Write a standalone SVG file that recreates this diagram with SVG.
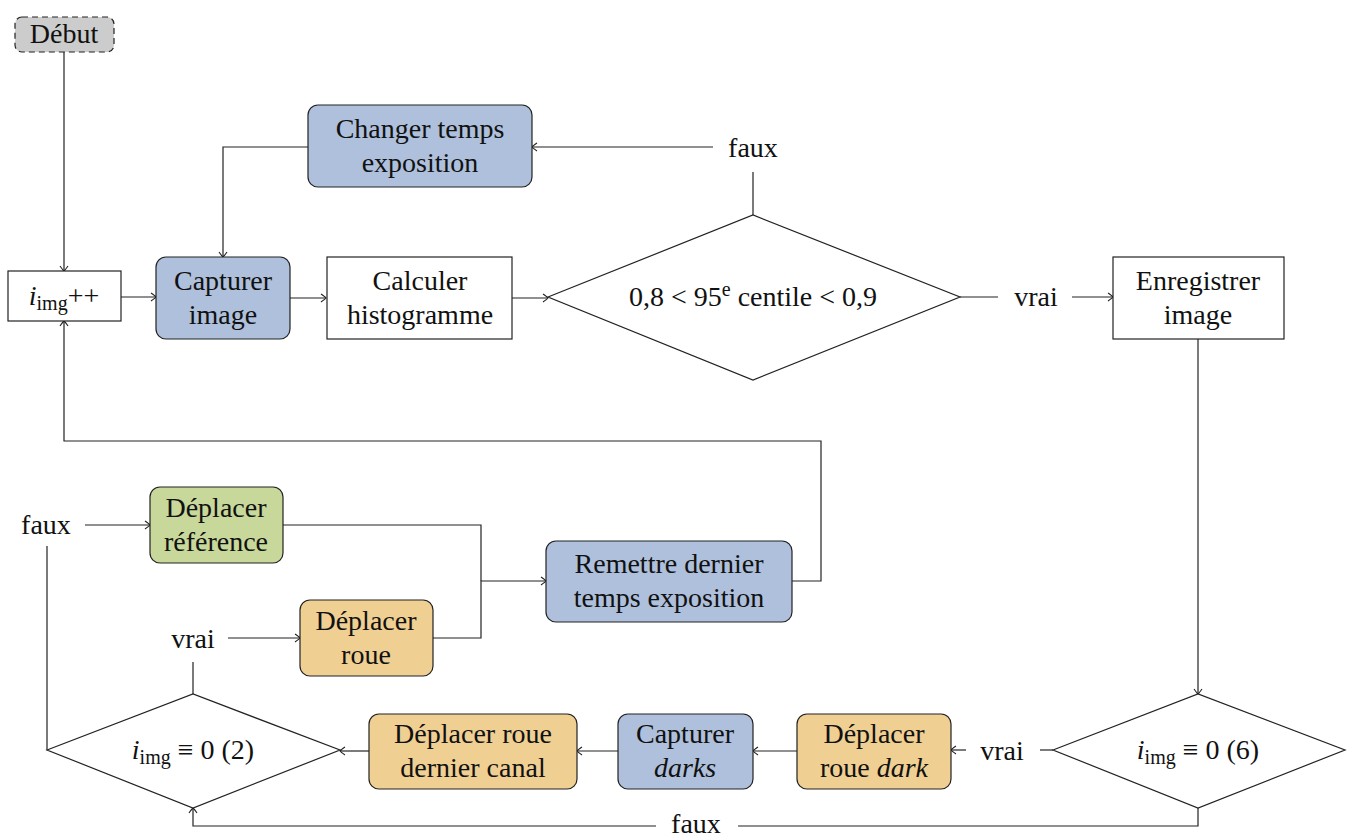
<svg xmlns="http://www.w3.org/2000/svg" width="1352" height="837" viewBox="0 0 1352 837" font-family="Liberation Serif, DejaVu Serif, serif">
<style>
text{font-size:28px;fill:#111;text-anchor:middle}
.it{font-style:italic}
.sub{font-size:20px}
.box{stroke:#222;stroke-width:1.2}
.blue{fill:#aec0db}
.orange{fill:#f0cf93}
.green{fill:#c7d89a}
.white{fill:#fff}
.con{fill:none;stroke:#222;stroke-width:1.2}
</style>
<defs>
<marker id="arr" viewBox="-6 -5 7 10" refX="0" refY="0" markerWidth="7" markerHeight="10" markerUnits="userSpaceOnUse" orient="auto" overflow="visible">
<path d="M-5,-4 Q-1,-1.2 0,0 Q-1,1.2 -5,4" fill="none" stroke="#222" stroke-width="1.1"/>
</marker>
</defs>
<rect width="1352" height="837" fill="#fff"/>
<g id="connectors">
<path class="con" d="M64,52 V271" marker-end="url(#arr)"/>
<path class="con" d="M121,297 H156" marker-end="url(#arr)"/>
<path class="con" d="M290,298 H326" marker-end="url(#arr)"/>
<path class="con" d="M512,298 H548" marker-end="url(#arr)"/>
<path class="con" d="M753,215 V172"/>
<path class="con" d="M713,147 H532" marker-end="url(#arr)"/>
<path class="con" d="M308,147 H223 V257" marker-end="url(#arr)"/>
<path class="con" d="M960,297 H998"/>
<path class="con" d="M1072,297 H1113" marker-end="url(#arr)"/>
<path class="con" d="M1198,339 V694" marker-end="url(#arr)"/>
<path class="con" d="M1053,750 H1040"/>
<path class="con" d="M966,750 H951" marker-end="url(#arr)"/>
<path class="con" d="M797,751 H753" marker-end="url(#arr)"/>
<path class="con" d="M618,751 H577" marker-end="url(#arr)"/>
<path class="con" d="M369,751 H340" marker-end="url(#arr)"/>
<path class="con" d="M1198,808 V826 H738"/>
<path class="con" d="M656,826 H193 V808" marker-end="url(#arr)"/>
<path class="con" d="M193,694 V662"/>
<path class="con" d="M228,638 H300" marker-end="url(#arr)"/>
<path class="con" d="M47,750 V546"/>
<path class="con" d="M85,525 H150" marker-end="url(#arr)"/>
<path class="con" d="M283,525 H481 V581"/>
<path class="con" d="M433,638 H481 V581 H546" marker-end="url(#arr)"/>
<path class="con" d="M792,581 H821 V441 H64 V321" marker-end="url(#arr)"/>
</g>
<g id="labels">
<text x="753" y="157">faux</text>
<text x="1036" y="306">vrai</text>
<text x="1002" y="760">vrai</text>
<text x="696" y="833">faux</text>
<text x="193" y="648">vrai</text>
<text x="46" y="534">faux</text>
</g>
<g id="debut">
<rect class="box" x="15" y="17" width="99" height="35" rx="7" fill="#cccccc" stroke-dasharray="6,4"/>
<text x="64" y="43">Début</text>
</g>
<g id="iimg">
<rect class="box white" x="8" y="271" width="113" height="50"/>
<text x="64" y="305"><tspan class="it">i</tspan><tspan class="sub" dy="5">img</tspan><tspan dy="-5">++</tspan></text>
</g>
<g id="capturer-image">
<rect class="box blue" x="156" y="257" width="134" height="82" rx="10"/>
<text x="223" y="290">Capturer</text>
<text x="223" y="324">image</text>
</g>
<g id="calculer">
<rect class="box white" x="327" y="257" width="185" height="82"/>
<text x="420" y="290">Calculer</text>
<text x="420" y="324">histogramme</text>
</g>
<g id="test-centile">
<polygon class="box white" points="548,297 753,215 960,297 753,380"/>
<text x="753" y="306">0,8 &lt; 95<tspan class="sub" dy="-10">e</tspan><tspan dy="10"> centile &lt; 0,9</tspan></text>
</g>
<g id="changer">
<rect class="box blue" x="308" y="105" width="224" height="82" rx="10"/>
<text x="420" y="138">Changer temps</text>
<text x="420" y="172">exposition</text>
</g>
<g id="enregistrer">
<rect class="box white" x="1113" y="257" width="171" height="82"/>
<text x="1198" y="290">Enregistrer</text>
<text x="1198" y="324">image</text>
</g>
<g id="test-6">
<polygon class="box white" points="1053,750 1198,694 1345,750 1198,808"/>
<text x="1198" y="759"><tspan class="it">i</tspan><tspan class="sub" dy="5">img</tspan><tspan dy="-5"> ≡ 0 (6)</tspan></text>
</g>
<g id="deplacer-roue-dark">
<rect class="box orange" x="797" y="714" width="154" height="75" rx="10"/>
<text x="874" y="743">Déplacer</text>
<text x="874" y="777">roue <tspan class="it">dark</tspan></text>
</g>
<g id="capturer-darks">
<rect class="box blue" x="618" y="714" width="135" height="75" rx="10"/>
<text x="685" y="743">Capturer</text>
<text x="685" y="777" class="it">darks</text>
</g>
<g id="deplacer-roue-dernier">
<rect class="box orange" x="369" y="714" width="208" height="75" rx="10"/>
<text x="473" y="743">Déplacer roue</text>
<text x="473" y="777">dernier canal</text>
</g>
<g id="test-2">
<polygon class="box white" points="47,750 193,694 340,750 193,808"/>
<text x="193" y="759"><tspan class="it">i</tspan><tspan class="sub" dy="5">img</tspan><tspan dy="-5"> ≡ 0 (2)</tspan></text>
</g>
<g id="deplacer-reference">
<rect class="box green" x="150" y="487" width="133" height="76" rx="10"/>
<text x="216" y="517">Déplacer</text>
<text x="216" y="551">référence</text>
</g>
<g id="deplacer-roue">
<rect class="box orange" x="300" y="600" width="133" height="76" rx="10"/>
<text x="366" y="630">Déplacer</text>
<text x="366" y="664">roue</text>
</g>
<g id="remettre">
<rect class="box blue" x="546" y="541" width="246" height="81" rx="10"/>
<text x="669" y="573">Remettre dernier</text>
<text x="669" y="607">temps exposition</text>
</g>
</svg>
